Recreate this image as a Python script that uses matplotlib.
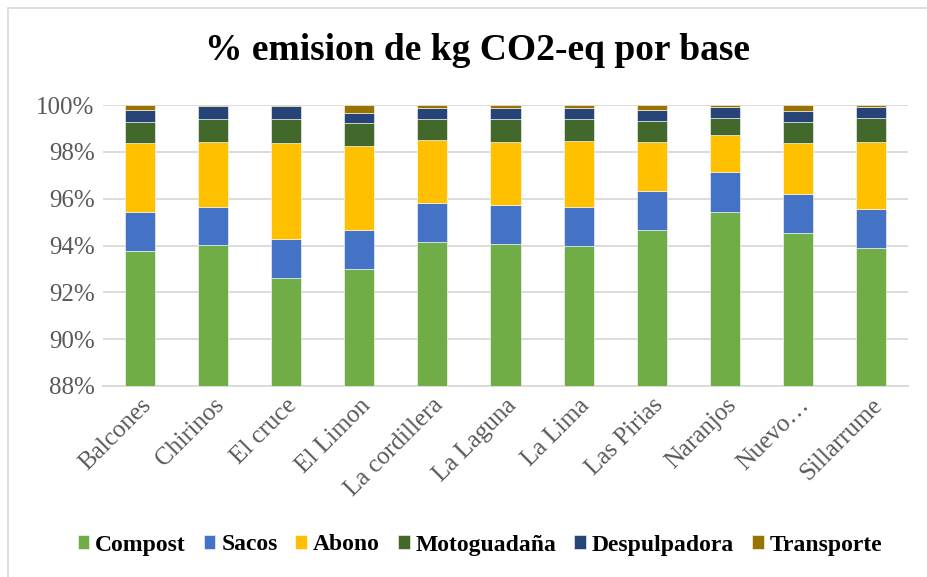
import matplotlib
matplotlib.use("Agg")
import matplotlib.pyplot as plt
from matplotlib.patches import Rectangle
from matplotlib.ticker import FuncFormatter
import numpy as np

categories = ["Balcones", "Chirinos", "El cruce", "El Limon", "La cordillera",
              "La Laguna", "La Lima", "Las Pirias", "Naranjos", "Nuevo…", "Sillarrume"]
compost      = [93.78, 94.01, 92.62, 93.01, 94.16, 94.08, 93.99, 94.66, 95.45, 94.53, 93.89]
sacos        = [1.65, 1.64, 1.64, 1.64, 1.64, 1.64, 1.66, 1.67, 1.67, 1.66, 1.66]
abono        = [2.96, 2.79, 4.10, 3.61, 2.69, 2.68, 2.82, 2.07, 1.58, 2.17, 2.88]
motoguadana  = [0.90, 0.95, 1.05, 0.96, 0.92, 1.01, 0.94, 0.93, 0.76, 0.93, 1.03]
despulpadora = [0.50, 0.57, 0.55, 0.45, 0.48, 0.46, 0.46, 0.47, 0.45, 0.45, 0.45]
transporte   = [0.21, 0.04, 0.04, 0.33, 0.11, 0.13, 0.13, 0.20, 0.09, 0.26, 0.09]

series_names = ["Compost", "Sacos", "Abono", "Motoguadaña", "Despulpadora", "Transporte"]
series_vals = [compost, sacos, abono, motoguadana, despulpadora, transporte]
colors = ["#70AD47", "#4472C4", "#FFC000", "#43682B", "#264478", "#997300"]

yticks = [88, 90, 92, 94, 96, 98, 100]

plt.rcParams['font.family'] = ['Liberation Serif', 'DejaVu Serif']

fig = plt.figure(figsize=(9.28, 5.77), dpi=100)
fig.patches.append(Rectangle((8/928, -0.01), 1.0, 1 - 8/577 + 0.01,
                             transform=fig.transFigure, fill=False,
                             edgecolor="#D9D9D9", lw=1.2, zorder=0))

ax = fig.add_axes([103/928, 1 - 386/577, 805/928, 281/577])
x = np.arange(len(categories))
bottom = np.zeros(len(categories))
for name, vals, c in zip(series_names, series_vals, colors):
    v = np.array(vals)
    ax.bar(x, v, bottom=bottom, width=0.41, color=c, label=name,
           edgecolor="white", linewidth=0.4, zorder=3)
    bottom += v

ax.set_ylim(88, 100)
ax.set_xlim(-0.5, len(categories) - 0.5)
ax.set_yticks(yticks)
ax.yaxis.set_major_formatter(FuncFormatter(lambda v, p: f"{v:.0f}%"))
ax.grid(axis="y", color="#D9D9D9", lw=1.3, zorder=0)
for s in ["top", "right", "left"]:
    ax.spines[s].set_visible(False)
ax.spines["bottom"].set_color("#D9D9D9")
ax.spines["bottom"].set_linewidth(1.3)
ax.tick_params(axis="both", length=0, colors="#595959", labelsize=18)
ax.tick_params(axis="y", pad=6)
ax.set_xticks(x)
ax.set_xticklabels(categories, rotation=45, ha="right", rotation_mode="anchor")
ax.tick_params(axis="x", pad=6)

fig.text(0.515, 1 - 50/577, "% emision de kg CO2-eq por base", ha="center", va="center",
         fontsize=27, fontweight="bold", color="black")

leg = fig.legend(loc="center", bbox_to_anchor=(0.517, 1 - 545/577), ncol=6, frameon=False,
                 prop={"weight": "bold", "size": 17}, handlelength=0.5, handleheight=0.5,
                 handletextpad=0.25, columnspacing=0.75)
for t in leg.get_texts():
    t.set_color("black")

fig.savefig("out.png", dpi=100)
